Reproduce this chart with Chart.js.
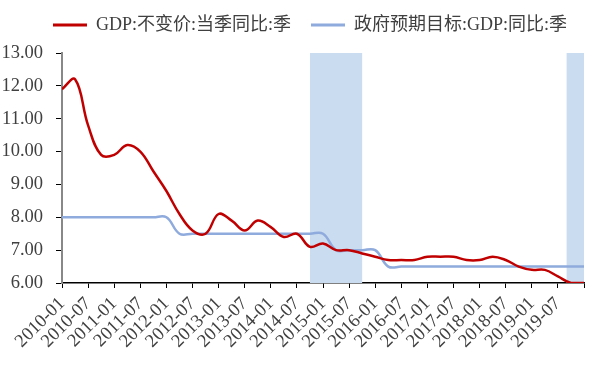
<!DOCTYPE html>
<html>
<head>
<meta charset="utf-8">
<script src="https://cdn.jsdelivr.net/npm/chart.js@4.4.0/dist/chart.umd.min.js"></script>
<style>
  html, body { margin: 0; padding: 0; background: #fff; }
  #wrap { width: 609px; height: 367px; }
</style>
</head>
<body>
<div id="wrap"><canvas id="chart"></canvas></div>
<script>
// Quarterly data, 2009Q4 - 2019Q4
var quarters = ['2009Q4',
  '2010Q1', '2010Q2', '2010Q3', '2010Q4', '2011Q1', '2011Q2', '2011Q3', '2011Q4',
  '2012Q1', '2012Q2', '2012Q3', '2012Q4', '2013Q1', '2013Q2', '2013Q3', '2013Q4',
  '2014Q1', '2014Q2', '2014Q3', '2014Q4', '2015Q1', '2015Q2', '2015Q3', '2015Q4',
  '2016Q1', '2016Q2', '2016Q3', '2016Q4', '2017Q1', '2017Q2', '2017Q3', '2017Q4',
  '2018Q1', '2018Q2', '2018Q3', '2018Q4', '2019Q1', '2019Q2', '2019Q3', '2019Q4'];

// GDP:不变价:当季同比
var gdp = [11.9,
  12.2, 10.8, 9.9, 9.9, 10.2, 10.0, 9.4, 8.8,
  8.1, 7.6, 7.5, 8.1, 7.9, 7.6, 7.9, 7.7,
  7.4, 7.5, 7.1, 7.2, 7.0, 7.0, 6.9, 6.8,
  6.7, 6.7, 6.7, 6.8, 6.8, 6.8, 6.7, 6.7,
  6.8, 6.7, 6.5, 6.4, 6.4, 6.2, 6.0, 6.0];

// 政府预期目标:GDP:同比
var target = [8.0,
  8.0, 8.0, 8.0, 8.0, 8.0, 8.0, 8.0, 8.0,
  7.5, 7.5, 7.5, 7.5, 7.5, 7.5, 7.5, 7.5,
  7.5, 7.5, 7.5, 7.5, 7.0, 7.0, 7.0, 7.0,
  6.5, 6.5, 6.5, 6.5, 6.5, 6.5, 6.5, 6.5,
  6.5, 6.5, 6.5, 6.5, 6.5, 6.5, 6.5, 6.5];

var tickLabels = ['2010-01', '2010-07', '2011-01', '2011-07', '2012-01', '2012-07',
  '2013-01', '2013-07', '2014-01', '2014-07', '2015-01', '2015-07', '2016-01',
  '2016-07', '2017-01', '2017-07', '2018-01', '2018-07', '2019-01', '2019-07'];

// shaded periods
var shadeStart = ['2014-10', '2019-09'];
var shadeEnd = ['2015-10', '2020-01'];

// months since 2010-01
function quarterToMonth(q) {
  return (parseInt(q.slice(0, 4)) - 2010) * 12 + parseInt(q.slice(5)) * 3;
}
function dateToMonth(d) {
  return (parseInt(d.slice(0, 4)) - 2010) * 12 + parseInt(d.slice(5)) - 1;
}
function toPoints(values) {
  return quarters.map(function (q, i) { return { x: quarterToMonth(q), y: values[i] }; });
}

var textColor = '#404040';
var fontFamily = '"Liberation Serif", "Times New Roman", "Noto Sans CJK SC", serif';

var shadePlugin = {
  id: 'shade',
  beforeDatasetsDraw: function (chart) {
    var ctx = chart.ctx, x = chart.scales.x, area = chart.chartArea;
    ctx.save();
    ctx.fillStyle = '#CADCEF';
    for (var i = 0; i < shadeStart.length; i++) {
      var x0 = x.getPixelForValue(dateToMonth(shadeStart[i]));
      var x1 = x.getPixelForValue(dateToMonth(shadeEnd[i]));
      ctx.fillRect(x0, area.top, x1 - x0, area.bottom - area.top);
    }
    ctx.restore();
  }
};

// legend: fixed height, nudged right like the original
var legendFitPlugin = {
  id: 'legendFit',
  beforeInit: function (chart) {
    var legend = chart.legend;
    var fit = legend.fit;
    var draw = legend.draw;
    legend.fit = function () {
      fit.apply(legend, arguments);
      legend.height = 57;
    };
    legend.draw = function () {
      legend.ctx.save();
      legend.ctx.translate(18, 0);
      draw.apply(legend, arguments);
      legend.ctx.restore();
    };
  }
};

var ctx = document.getElementById('chart');
var myChart = new Chart(ctx, {
  type: 'line',
  data: {
    datasets: [
      {
        label: 'GDP:不变价:当季同比:季',
        data: toPoints(gdp),
        borderColor: '#C00000',
        backgroundColor: '#C00000',
        borderWidth: 2.5,
        pointRadius: 0,
        tension: 0.4
      },
      {
        label: '政府预期目标:GDP:同比:季',
        data: toPoints(target),
        borderColor: '#8FAADC',
        backgroundColor: '#8FAADC',
        borderWidth: 2.5,
        pointRadius: 0,
        tension: 0.4
      }
    ]
  },
  options: {
    responsive: true,
    maintainAspectRatio: false,
    animation: false,
    layout: {
      padding: { left: 0, right: 25, top: -4, bottom: 0 }
    },
    plugins: {
      tooltip: { enabled: false },
      legend: {
        display: true,
        position: 'top',
        labels: {
          color: textColor,
          font: { family: fontFamily, size: 18 },
          boxWidth: 34,
          boxHeight: 3,
          padding: 20,
          generateLabels: function (chart) {
            var items = Chart.defaults.plugins.legend.labels.generateLabels(chart);
            items.forEach(function (it) { it.fillStyle = it.strokeStyle; it.lineWidth = 0; });
            return items;
          }
        }
      }
    },
    scales: {
      x: {
        type: 'linear',
        min: 0,
        max: 120,
        afterFit: function (scale) { scale.height = 84; },
        ticks: {
          stepSize: 6,
          autoSkip: false,
          maxRotation: 45,
          minRotation: 45,
          color: textColor,
          font: { family: fontFamily, size: 18.5 },
          padding: 5,
          callback: function (v) { return tickLabels[v / 6] || ''; }
        },
        grid: { drawOnChartArea: false, drawTicks: true, tickLength: 5, tickColor: '#000' },
        border: { color: '#000', width: 1.5 }
      },
      y: {
        min: 6,
        max: 13,
        afterFit: function (scale) { scale.width = 62; },
        ticks: {
          stepSize: 1,
          color: textColor,
          font: { family: fontFamily, size: 18.5 },
          padding: 13,
          callback: function (v) { return v.toFixed(2); }
        },
        grid: { drawOnChartArea: false, drawTicks: true, tickLength: 6, tickColor: '#000' },
        border: { color: '#888', width: 2 }
      }
    }
  },
  plugins: [shadePlugin, legendFitPlugin]
});
</script>
</body>
</html>
